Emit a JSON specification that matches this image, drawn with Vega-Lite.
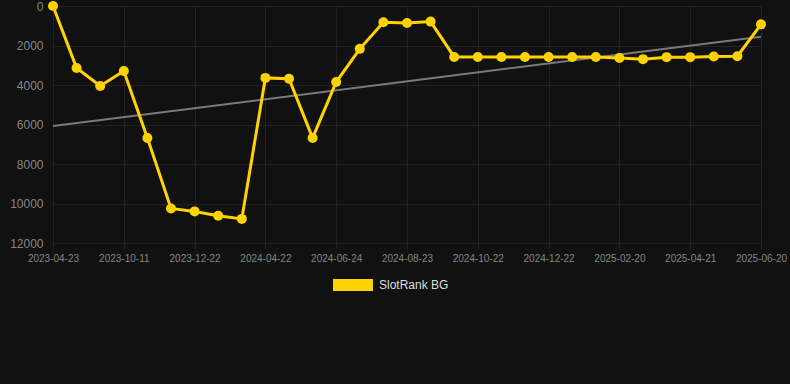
{
  "$schema": "https://vega.github.io/schema/vega-lite/v6.json",
  "width": 708,
  "height": 237,
  "autosize": {"type": "none"},
  "padding": {"left": 53, "top": 6, "right": 29, "bottom": 141},
  "background": "#111111",
  "config": {
    "view": {"stroke": null},
    "font": "Liberation Sans",
    "axis": {"gridColor": "#222222", "gridWidth": 1, "domain": false, "ticks": false, "labelColor": "#858585"}
  },
  "data": {
    "values": [
      {"date": "2023-04-23", "rank": 0, "trend": 6076, "series": "SlotRank BG"},
      {"date": "2023-06-15", "rank": 3140, "trend": null, "series": "SlotRank BG"},
      {"date": "2023-08-10", "rank": 4050, "trend": null, "series": "SlotRank BG"},
      {"date": "2023-10-11", "rank": 3290, "trend": null, "series": "SlotRank BG"},
      {"date": "2023-11-05", "rank": 6680, "trend": null, "series": "SlotRank BG"},
      {"date": "2023-11-28", "rank": 10250, "trend": null, "series": "SlotRank BG"},
      {"date": "2023-12-22", "rank": 10400, "trend": null, "series": "SlotRank BG"},
      {"date": "2024-01-30", "rank": 10620, "trend": null, "series": "SlotRank BG"},
      {"date": "2024-03-05", "rank": 10780, "trend": null, "series": "SlotRank BG"},
      {"date": "2024-04-22", "rank": 3640, "trend": null, "series": "SlotRank BG"},
      {"date": "2024-05-12", "rank": 3680, "trend": null, "series": "SlotRank BG"},
      {"date": "2024-06-03", "rank": 6680, "trend": null, "series": "SlotRank BG"},
      {"date": "2024-06-24", "rank": 3850, "trend": null, "series": "SlotRank BG"},
      {"date": "2024-07-14", "rank": 2170, "trend": null, "series": "SlotRank BG"},
      {"date": "2024-08-03", "rank": 820, "trend": null, "series": "SlotRank BG"},
      {"date": "2024-08-23", "rank": 860, "trend": null, "series": "SlotRank BG"},
      {"date": "2024-09-12", "rank": 790, "trend": null, "series": "SlotRank BG"},
      {"date": "2024-10-02", "rank": 2580, "trend": null, "series": "SlotRank BG"},
      {"date": "2024-10-22", "rank": 2580, "trend": null, "series": "SlotRank BG"},
      {"date": "2024-11-11", "rank": 2580, "trend": null, "series": "SlotRank BG"},
      {"date": "2024-12-01", "rank": 2580, "trend": null, "series": "SlotRank BG"},
      {"date": "2024-12-22", "rank": 2580, "trend": null, "series": "SlotRank BG"},
      {"date": "2025-01-11", "rank": 2580, "trend": null, "series": "SlotRank BG"},
      {"date": "2025-01-31", "rank": 2580, "trend": null, "series": "SlotRank BG"},
      {"date": "2025-02-20", "rank": 2630, "trend": null, "series": "SlotRank BG"},
      {"date": "2025-03-12", "rank": 2690, "trend": null, "series": "SlotRank BG"},
      {"date": "2025-04-01", "rank": 2590, "trend": null, "series": "SlotRank BG"},
      {"date": "2025-04-21", "rank": 2590, "trend": null, "series": "SlotRank BG"},
      {"date": "2025-05-11", "rank": 2560, "trend": null, "series": "SlotRank BG"},
      {"date": "2025-05-31", "rank": 2540, "trend": null, "series": "SlotRank BG"},
      {"date": "2025-06-20", "rank": 930, "trend": 1554, "series": "SlotRank BG"}
    ]
  },
  "encoding": {
    "x": {
      "field": "date",
      "type": "ordinal",
      "sort": "ascending",
      "scale": {"type": "point", "padding": 0},
      "axis": {
        "title": null,
        "labelAngle": 0,
        "labelFontSize": 10,
        "labelPadding": 4,
        "labelOverlap": false,
        "grid": true,
        "ticks": true,
        "tickSize": 6,
        "tickColor": "#222222",
        "values": ["2023-04-23", "2023-10-11", "2023-12-22", "2024-04-22", "2024-06-24", "2024-08-23", "2024-10-22", "2024-12-22", "2025-02-20", "2025-04-21", "2025-06-20"]
      }
    }
  },
  "layer": [
    {
      "transform": [{"filter": "isValid(datum.trend)"}],
      "mark": {"type": "line", "color": "#7a7a7a", "strokeWidth": 2},
      "encoding": {
        "y": {
          "field": "trend",
          "type": "quantitative",
          "scale": {"domain": [0, 12000], "reverse": true, "nice": false},
          "axis": {"title": null, "values": [0, 2000, 4000, 6000, 8000, 10000, 12000], "format": "d", "labelFontSize": 12, "labelPadding": 10, "labelOverlap": false}
        }
      }
    },
    {
      "mark": {"type": "line", "strokeWidth": 3, "point": {"filled": true, "size": 100}},
      "encoding": {
        "y": {
          "field": "rank",
          "type": "quantitative",
          "scale": {"domain": [0, 12000], "reverse": true, "nice": false},
          "axis": {"title": null, "values": [0, 2000, 4000, 6000, 8000, 10000, 12000], "format": "d", "labelFontSize": 12, "labelPadding": 10, "labelOverlap": false}
        },
        "color": {
          "field": "series",
          "type": "nominal",
          "scale": {"range": ["#FFD200"]},
          "legend": {
            "title": null,
            "orient": "none",
            "legendX": 280,
            "legendY": 259,
            "padding": 0,
            "symbolType": "M-1,-0.3H1V0.3H-1Z",
            "symbolSize": 1600,
            "labelFontSize": 12,
            "labelColor": "#dddddd",
            "labelOffset": 6,
            "encode": {"symbols": {"update": {"fill": {"value": "#FFD200"}, "stroke": {"value": "#FFD200"}, "strokeWidth": {"value": 0}}}}
          }
        }
      }
    }
  ]
}
